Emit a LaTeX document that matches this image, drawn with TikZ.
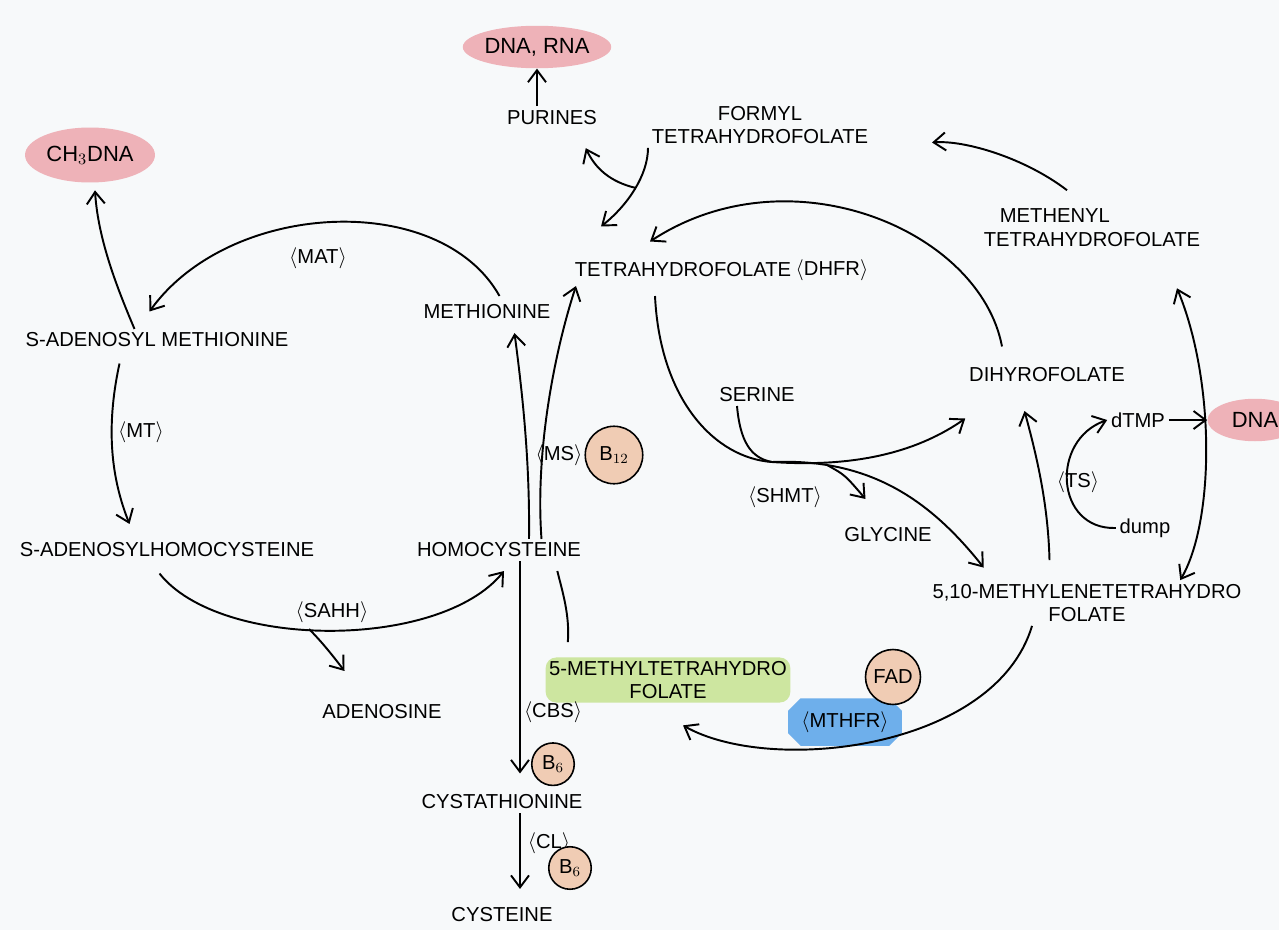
\documentclass[tikz,border=0pt]{standalone}
\usepackage{fontspec}
\setmainfont{Liberation Sans}
\usetikzlibrary{shapes.geometric, shapes.misc, arrows.meta, positioning}
\definecolor{dnapink}{RGB}{238,178,184}
\definecolor{vitpeach}{RGB}{240,204,180}
\definecolor{mthfrblue}{RGB}{110,175,235}
\definecolor{folgreen}{RGB}{205,230,160}
\definecolor{paper}{RGB}{247,249,250}
\newcommand{\enzname}[1]{$\big\langle$#1$\big\rangle$}
\tikzset{
    metab/.style={
        rectangle,
        draw=none,
        align=center,
        inner sep=2pt,
        font=\fontsize{11.5}{13.5}\selectfont
    },
    enz/.style={
        rectangle,
        draw=none,
        inner sep=1pt,
        font=\fontsize{11.5}{13.5}\selectfont
    },
    cof/.style={
        circle,
        draw=black,
        line width=0.9pt,
        fill=vitpeach,
        inner sep=0pt,
        font=\fontsize{11.5}{13.5}\selectfont
    },
    blob/.style={
        ellipse,
        fill=dnapink,
        draw=none,
        inner sep=0pt,
        font=\fontsize{12.5}{14}\selectfont
    },
    arrow/.style={
        line width=1.1pt,
        ->,
        >={Straight Barb[length=2.4mm,width=3.6mm]}
    },
    line/.style={
        line width=1.1pt
    },
}

\begin{document}
\begin{tikzpicture}[x=0.02cm, y=-0.02cm]
\fill[paper] (0,0) rectangle (1279,930);
\useasboundingbox (0,0) rectangle (1279,930);

% Products
\node[blob, minimum width=1.95cm, minimum height=0.85cm] (DNARNA) at (537,47) {DNA, RNA};
\node[metab, below=0.75cm of DNARNA, xshift=0.3cm] (PUR) {PURINES};
\node[blob, minimum width=2.6cm, minimum height=1.1cm] (CH3) at (90,155) {CH$_3$DNA};
\node[blob, minimum width=1.9cm, minimum height=0.85cm] (DNA) at (1255,420) {DNA};

% Folate cycle
\node[metab] (FTHF) at (760,125) {FORMYL\\TETRAHYDROFOLATE};
\node[metab, align=left, anchor=west] (METHF) at (980,228) {\hspace{1.5ex}METHENYL\\TETRAHYDROFOLATE};
\node[metab] (THF) at (683,270) {TETRAHYDROFOLATE};
\node[enz] (DHFR) at (832,270) {\enzname{DHFR}};
\node[metab] (DHF) at (1047,375) {DIHYROFOLATE};
\node[metab] (SER) at (757,395) {SERINE};
\node[enz] (SHMT) at (785,497) {\enzname{SHMT}};
\node[metab] (GLY) at (888,535) {GLYCINE};
\node[metab] (DTMP) at (1138,420) {dTMP};
\node[enz] (TS) at (1078,482) {\enzname{TS}};
\node[metab] (DUMP) at (1145,528) {dump};
\node[metab] (MTHF510) at (1087,603) {5,10-METHYLENETETRAHYDRO\\FOLATE};
\node[metab, fill=folgreen, rounded corners=6pt] (MTHF5) at (668,680) {5-METHYLTETRAHYDRO\\FOLATE};
\node[enz, chamfered rectangle, fill=mthfrblue, inner sep=4pt] (MTHFR) at (845,722) {\enzname{MTHFR}};
\node[cof, minimum size=1.1cm] (FAD) at (893,677) {FAD};

% Methionine cycle
\node[metab] (MET) at (487,312) {METHIONINE};
\node[metab] (SAM) at (157,340) {S-ADENOSYL METHIONINE};
\node[enz] (MAT) at (318,258) {\enzname{MAT}};
\node[enz] (MT) at (141,432) {\enzname{MT}};
\node[metab] (SAH) at (167,550) {S-ADENOSYLHOMOCYSTEINE};
\node[metab] (HCY) at (499,550) {HOMOCYSTEINE};
\node[enz] (MS) at (559,455) {\enzname{MS}};
\node[cof, minimum size=1.15cm, right=0pt of MS] (B12) {B$_{12}$};
\node[enz] (SAHH) at (332,612) {\enzname{SAHH}};
\node[metab] (ADO) at (382,712) {ADENOSINE};

% Transsulfuration
\node[enz] (CBS) at (553,712) {\enzname{CBS}};
\node[cof, minimum size=0.85cm, below=0.35cm of CBS] (B6a) {B$_6$};
\node[metab] (CYSTA) at (502,802) {CYSTATHIONINE};
\node[enz] (CL) at (549,843) {\enzname{CL}};
\node[cof, minimum size=0.85cm] (B6b) at (570,868) {B$_6$};
\node[metab] (CYS) at (502,915) {CYSTEINE};

% Branch points
\coordinate (fork) at (636,188);
\coordinate (shmtj) at (772,462);
\coordinate (glyfork) at (827,465);
\coordinate (adofork) at (309,629);

% Arrows
\draw[arrow] (PUR.north -| DNARNA.south) -- (DNARNA.south);
\draw[arrow] (FTHF.south west) .. controls (648,175) and (628,205) .. ([xshift=0.6cm,yshift=0.65cm]THF.north west);
\draw[arrow] (fork) .. controls (610,182) and (595,168) .. ([xshift=-0.3cm,yshift=-0.4cm]PUR.south east);
\draw[arrow] ([xshift=-0.5cm,yshift=0.3cm]METHF.north) .. controls (1025,158) and (965,140) .. ([xshift=1.2cm,yshift=-0.35cm]FTHF.east);
\draw[arrow] ([xshift=-0.9cm,yshift=0.35cm]DHF.north) .. controls (980,230) and (790,150) .. ([xshift=-0.66cm,yshift=0.35cm]THF.north);

\draw[arrow] ([xshift=-0.56cm,yshift=-0.3cm]THF.south) .. controls (660,400) and (715,458) .. (shmtj) .. controls (860,468) and (920,450) .. ([yshift=-0.65cm]DHF.south west);
\draw[arrow] (shmtj) .. controls (870,458) and (930,500) .. ([xshift=1.1cm,yshift=0.25cm]MTHF510.north west);
\draw[line] ([xshift=-0.4cm]SER.south) .. controls (740,440) and (750,458) .. (shmtj);
\draw[arrow] (glyfork) .. controls (845,475) .. ([xshift=-0.45cm,yshift=0.5cm]GLY.north);

\draw[arrow] ([xshift=-0.75cm,yshift=0.4cm]MTHF510.north) .. controls (1048,500) and (1035,450) .. ([xshift=-0.45cm,yshift=-0.5cm]DHF.south);
\draw[arrow] (DUMP.west) .. controls (1055,530) and (1050,440) .. (DTMP.west);
\draw[arrow] (DTMP) -- (DNA);
\draw[arrow, <->] ([xshift=1.7cm,yshift=-0.75cm]METHF.south) .. controls (1215,380) and (1215,520) .. ([xshift=-1.3cm]MTHF510.north east);
\draw[arrow] ([xshift=-1.1cm]MTHF510.south) .. controls (995,750) and (770,775) .. ([xshift=0.3cm,yshift=-0.45cm]MTHF5.south);

\draw[line] ([xshift=0.45cm,yshift=0.3cm]MTHF5.north west) .. controls (570,615) and (562,590) .. ([xshift=-0.55cm,yshift=-0.2cm]HCY.south east);
\draw[arrow] ([xshift=0.6cm]HCY.north) .. controls (530,460) and (522,390) .. ([xshift=0.55cm,yshift=-0.2cm]MET.south);
\draw[arrow] ([xshift=0.85cm]HCY.north) .. controls (535,450) and (555,350) .. ([xshift=0.1cm,yshift=-0.1cm]THF.south west);

\draw[arrow] ([xshift=-0.45cm]SAM.north) .. controls (118,290) and (98,240) .. ([xshift=0.1cm,yshift=-0.15cm]CH3.south);
\draw[arrow] ([xshift=0.25cm,yshift=0.1cm]MET.north) .. controls (440,190) and (230,200) .. ([xshift=-0.15cm,yshift=0.35cm]SAM.north);
\draw[arrow] ([xshift=-0.75cm,yshift=-0.25cm]SAM.south) .. controls (105,430) and (112,480) .. ([xshift=-0.75cm,yshift=0.3cm]SAH.north);
\draw[arrow] ([xshift=-0.15cm,yshift=-0.25cm]SAH.south) .. controls (220,650) and (440,650) .. ([xshift=0.1cm,yshift=-0.2cm]HCY.south);
\draw[arrow] (adofork) .. controls (322,642) and (333,656) .. ([xshift=-0.75cm,yshift=0.6cm]ADO.north);

\draw[arrow] ([xshift=0.42cm]HCY.south) -- ([xshift=0.42cm,yshift=0.35cm]HCY.south |- CYSTA.north);
\draw[arrow] ([xshift=0.36cm]CYSTA.south) -- ([xshift=0.36cm,yshift=0.3cm]CYSTA.south |- CYS.north);

\end{tikzpicture}
\end{document}
